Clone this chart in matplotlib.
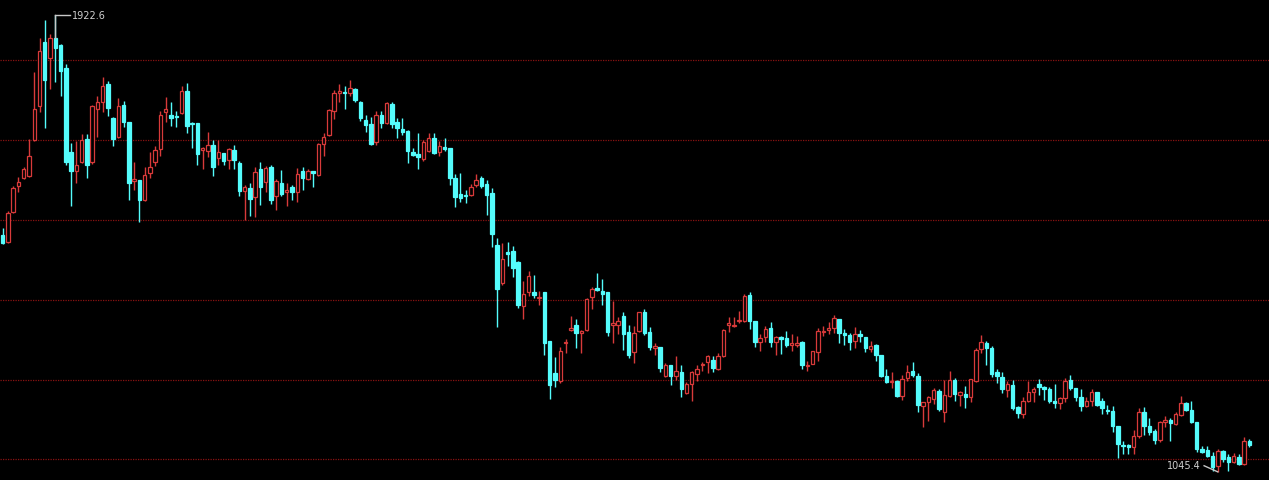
import numpy as np
import matplotlib
matplotlib.use("Agg")
import matplotlib.pyplot as plt

# daily OHLC, oldest first
open_ = [1500.2, 1486.7, 1544.3, 1594.3, 1609.6, 1613.5, 1682.6, 1747.9, 1870.7, 1840.0,
         1878.4, 1865.0, 1820.8, 1659.5, 1623.1, 1640.3, 1684.5, 1640.3, 1742.1, 1755.5,
         1790.1, 1724.8, 1688.3, 1749.8, 1717.1, 1603.9, 1605.8, 1567.4, 1619.2, 1640.3,
         1665.3, 1736.3, 1730.6, 1728.7, 1734.4, 1776.7, 1715.2, 1715.2, 1663.4, 1661.5,
         1673.0, 1648.0, 1657.6, 1644.2, 1663.4, 1638.4, 1584.7, 1590.4, 1573.1, 1626.9,
         1602.0, 1630.7, 1575.1, 1600.0, 1582.7, 1592.3, 1582.7, 1623.1, 1607.7, 1623.1,
         1615.4, 1674.9, 1692.2, 1738.3, 1772.9, 1774.7, 1772.9, 1780.5, 1755.5, 1721.0,
         1713.3, 1678.7, 1730.6, 1715.2, 1751.7, 1717.1, 1703.7, 1699.9, 1659.5, 1655.7,
         1646.1, 1661.5, 1686.4, 1659.5, 1669.1, 1667.2, 1609.6, 1578.9, 1577.0, 1577.0,
         1596.2, 1609.6, 1598.1, 1580.8, 1481.0, 1408.0, 1467.5, 1469.5, 1448.3, 1363.9,
         1390.7, 1390.7, 1379.2, 1390.7, 1296.7, 1235.2, 1219.9, 1292.8, 1317.8, 1327.4,
         1312.0, 1317.8, 1381.1, 1398.4, 1392.7, 1390.7, 1327.4, 1327.4, 1344.7, 1313.9,
         1275.5, 1315.9, 1352.3, 1313.9, 1283.2, 1285.2, 1229.5, 1250.6, 1229.5, 1237.1,
         1196.8, 1214.1, 1233.3, 1250.6, 1256.3, 1260.2, 1242.9, 1267.9, 1327.4, 1325.5,
         1335.1, 1335.1, 1385.0, 1335.1, 1294.7, 1304.3, 1321.6, 1294.7, 1304.3, 1302.4,
         1289.0, 1289.0, 1294.7, 1248.7, 1252.5, 1275.5, 1313.9, 1317.8, 1321.6, 1338.9,
         1312.0, 1308.2, 1296.7, 1310.1, 1304.3, 1281.3, 1289.0, 1269.8, 1229.5, 1217.9,
         1219.9, 1191.1, 1225.6, 1239.1, 1229.5, 1171.9, 1179.5, 1185.3, 1200.7, 1160.3,
         1191.1, 1221.8, 1193.0, 1194.9, 1189.1, 1219.9, 1281.3, 1292.8, 1283.2, 1237.1,
         1227.5, 1202.6, 1212.2, 1169.9, 1156.5, 1181.5, 1198.7, 1214.1, 1208.3, 1204.5,
         1181.5, 1177.6, 1187.2, 1221.8, 1206.4, 1189.1, 1171.9, 1181.5, 1198.7, 1181.5,
         1164.2, 1162.3, 1133.5, 1097.0, 1097.0, 1093.1, 1114.3, 1160.3, 1133.5, 1123.9,
         1106.6, 1141.1, 1145.0, 1137.3, 1154.6, 1177.6, 1164.2, 1141.1, 1089.3, 1087.4,
         1075.9, 1056.7, 1085.5, 1073.9, 1064.3, 1073.9, 1060.5, 1104.7]
high = [1513.6, 1546.3, 1594.3, 1611.5, 1630.7, 1684.5, 1813.1, 1878.4, 1913.0, 1886.1,
        1922.6, 1866.5, 1828.5, 1676.8, 1680.7, 1694.1, 1694.1, 1750.0, 1767.1, 1803.5,
        1795.9, 1726.0, 1763.2, 1757.5, 1718.0, 1640.3, 1606.5, 1630.7, 1659.5, 1671.1,
        1738.3, 1765.1, 1755.5, 1738.3, 1786.3, 1792.0, 1717.1, 1716.0, 1669.1, 1697.9,
        1682.6, 1682.6, 1658.5, 1667.2, 1673.0, 1642.3, 1596.2, 1600.0, 1630.7, 1640.3,
        1632.7, 1634.6, 1607.7, 1625.0, 1600.0, 1596.2, 1628.8, 1630.7, 1626.9, 1624.0,
        1676.8, 1696.0, 1742.1, 1778.6, 1790.1, 1786.3, 1797.8, 1782.4, 1757.5, 1730.6,
        1726.7, 1738.3, 1738.3, 1755.5, 1755.5, 1724.8, 1724.8, 1701.8, 1667.2, 1696.0,
        1682.6, 1696.0, 1696.0, 1680.7, 1686.4, 1668.0, 1617.3, 1619.2, 1586.6, 1598.1,
        1617.3, 1613.5, 1605.8, 1590.4, 1494.4, 1484.8, 1486.7, 1479.1, 1450.3, 1411.9,
        1431.1, 1423.4, 1392.7, 1391.5, 1297.5, 1266.0, 1285.2, 1300.5, 1344.7, 1338.9,
        1317.8, 1379.2, 1400.3, 1427.2, 1415.7, 1391.5, 1373.5, 1342.7, 1352.3, 1327.4,
        1325.5, 1353.0, 1358.1, 1323.5, 1292.8, 1286.0, 1254.4, 1251.5, 1267.9, 1250.6,
        1217.9, 1239.1, 1250.6, 1256.3, 1269.8, 1267.9, 1273.6, 1319.7, 1342.7, 1342.7,
        1354.2, 1386.9, 1390.7, 1336.0, 1310.1, 1325.5, 1333.1, 1306.3, 1306.3, 1315.9,
        1310.1, 1306.3, 1296.7, 1258.3, 1278.0, 1321.6, 1325.5, 1333.1, 1346.6, 1339.5,
        1319.7, 1312.0, 1323.5, 1317.8, 1305.0, 1296.7, 1290.0, 1270.5, 1242.9, 1237.1,
        1221.0, 1231.4, 1250.6, 1256.3, 1235.2, 1180.0, 1191.1, 1206.4, 1204.5, 1221.8,
        1239.1, 1225.6, 1200.7, 1210.3, 1224.5, 1283.2, 1308.2, 1296.7, 1287.1, 1242.9,
        1237.1, 1219.9, 1221.8, 1171.0, 1189.1, 1219.9, 1208.3, 1223.7, 1210.3, 1208.3,
        1214.1, 1189.1, 1225.6, 1231.4, 1207.0, 1204.5, 1189.1, 1204.5, 1199.5, 1187.2,
        1173.8, 1171.9, 1134.3, 1104.7, 1098.9, 1125.8, 1168.0, 1169.9, 1148.8, 1127.7,
        1143.1, 1152.7, 1148.8, 1160.3, 1191.1, 1179.5, 1181.5, 1142.0, 1095.1, 1095.1,
        1083.5, 1089.3, 1086.5, 1079.7, 1081.6, 1079.7, 1112.3, 1108.5]
low = [1482.9, 1484.8, 1542.4, 1582.7, 1607.7, 1612.0, 1681.0, 1736.3, 1705.6, 1780.5,
       1793.9, 1767.1, 1634.6, 1555.9, 1600.0, 1638.0, 1609.6, 1636.5, 1688.3, 1736.3,
       1728.7, 1671.1, 1687.0, 1707.5, 1567.4, 1586.6, 1525.1, 1566.0, 1609.6, 1632.7,
       1651.9, 1717.1, 1709.5, 1707.5, 1733.0, 1696.0, 1667.2, 1634.6, 1626.9, 1649.9,
       1613.5, 1634.6, 1634.6, 1626.9, 1626.9, 1575.1, 1529.0, 1536.7, 1534.7, 1557.8,
       1582.7, 1559.7, 1548.2, 1575.1, 1555.9, 1567.4, 1563.5, 1586.6, 1606.0, 1592.3,
       1613.5, 1651.9, 1690.0, 1722.9, 1755.5, 1742.1, 1767.1, 1755.5, 1719.1, 1697.9,
       1673.0, 1673.0, 1705.6, 1714.0, 1705.6, 1686.4, 1692.2, 1638.4, 1651.9, 1626.9,
       1642.3, 1660.0, 1656.0, 1651.9, 1661.5, 1596.2, 1554.0, 1563.5, 1561.6, 1575.1,
       1592.3, 1590.4, 1538.6, 1477.1, 1323.5, 1404.2, 1440.7, 1419.5, 1360.0, 1338.9,
       1383.1, 1379.2, 1365.8, 1269.8, 1185.3, 1208.3, 1216.0, 1273.6, 1316.0, 1283.2,
       1273.6, 1316.0, 1358.1, 1392.7, 1365.8, 1306.3, 1292.8, 1310.1, 1279.4, 1264.0,
       1254.4, 1313.9, 1308.2, 1279.4, 1269.8, 1237.1, 1228.0, 1212.2, 1221.8, 1189.1,
       1195.0, 1181.5, 1219.9, 1239.1, 1235.2, 1237.1, 1241.0, 1266.0, 1313.9, 1323.5,
       1331.2, 1333.1, 1319.7, 1285.2, 1277.5, 1294.7, 1285.2, 1269.8, 1271.7, 1285.2,
       1277.5, 1285.2, 1242.9, 1239.1, 1252.0, 1258.3, 1306.3, 1310.1, 1312.0, 1292.8,
       1289.0, 1279.4, 1283.2, 1294.7, 1275.5, 1275.5, 1258.3, 1227.5, 1216.0, 1206.4,
       1189.1, 1183.4, 1219.9, 1227.5, 1160.3, 1131.5, 1143.1, 1175.7, 1162.3, 1141.1,
       1189.1, 1181.5, 1171.9, 1168.0, 1179.5, 1218.0, 1273.6, 1250.6, 1227.5, 1216.0,
       1196.8, 1189.1, 1164.2, 1148.8, 1148.8, 1179.5, 1179.5, 1193.0, 1183.4, 1177.6,
       1168.0, 1166.1, 1179.5, 1202.6, 1181.5, 1162.3, 1170.0, 1171.9, 1171.9, 1156.5,
       1156.5, 1121.9, 1072.0, 1079.7, 1079.7, 1079.7, 1110.4, 1116.2, 1116.2, 1098.9,
       1102.7, 1131.5, 1104.7, 1136.0, 1152.7, 1162.3, 1139.2, 1083.5, 1081.6, 1073.9,
       1047.1, 1045.4, 1064.3, 1047.5, 1062.4, 1059.5, 1059.0, 1093.1]
close = [1484.8, 1542.4, 1590.4, 1602.0, 1626.9, 1651.9, 1742.1, 1853.5, 1797.8, 1878.4,
         1859.2, 1815.1, 1640.3, 1623.1, 1634.6, 1682.6, 1634.6, 1747.9, 1755.5, 1786.3,
         1744.0, 1684.5, 1747.9, 1717.1, 1600.0, 1607.7, 1567.4, 1615.4, 1630.7, 1663.4,
         1730.6, 1742.1, 1724.8, 1726.0, 1776.7, 1709.5, 1713.5, 1655.7, 1667.2, 1673.0,
         1630.7, 1659.5, 1642.3, 1665.3, 1644.2, 1584.7, 1592.3, 1569.3, 1621.1, 1592.3,
         1628.8, 1567.4, 1603.9, 1578.9, 1586.6, 1582.7, 1617.3, 1609.6, 1623.1, 1619.2,
         1674.9, 1688.3, 1740.2, 1772.9, 1776.7, 1772.9, 1782.4, 1759.4, 1724.8, 1711.4,
         1674.9, 1730.6, 1715.2, 1753.6, 1713.3, 1705.6, 1697.9, 1661.5, 1653.8, 1649.9,
         1678.7, 1686.4, 1657.6, 1671.1, 1665.3, 1609.6, 1573.1, 1571.2, 1575.1, 1592.3,
         1605.8, 1594.3, 1577.0, 1502.1, 1396.5, 1454.1, 1463.7, 1436.8, 1365.8, 1386.9,
         1421.5, 1385.0, 1381.1, 1292.8, 1212.2, 1221.8, 1277.5, 1294.7, 1321.6, 1312.0,
         1315.9, 1377.3, 1396.5, 1394.6, 1386.9, 1313.9, 1331.2, 1335.1, 1310.1, 1269.8,
         1312.0, 1352.3, 1312.0, 1285.2, 1287.1, 1244.8, 1250.6, 1229.5, 1239.1, 1204.5,
         1214.1, 1237.1, 1242.9, 1252.5, 1267.9, 1244.8, 1267.9, 1317.8, 1331.2, 1327.4,
         1337.0, 1383.1, 1335.1, 1294.7, 1302.4, 1319.7, 1294.7, 1304.3, 1300.5, 1289.0,
         1292.8, 1292.8, 1250.6, 1250.6, 1277.5, 1315.9, 1315.9, 1321.6, 1340.8, 1312.0,
         1308.2, 1294.7, 1310.1, 1306.3, 1283.2, 1287.1, 1269.8, 1229.5, 1217.9, 1219.9,
         1191.1, 1223.7, 1237.1, 1231.4, 1173.8, 1179.5, 1189.1, 1202.6, 1166.1, 1193.0,
         1221.8, 1194.9, 1198.7, 1189.1, 1223.7, 1279.4, 1294.7, 1283.2, 1233.3, 1229.5,
         1204.5, 1214.1, 1168.0, 1158.4, 1181.5, 1198.7, 1204.5, 1208.3, 1204.5, 1181.5,
         1177.6, 1187.2, 1219.9, 1206.4, 1189.1, 1171.9, 1181.5, 1198.7, 1173.8, 1168.0,
         1162.3, 1133.5, 1098.9, 1095.1, 1093.1, 1114.3, 1160.3, 1133.5, 1121.9, 1106.6,
         1141.1, 1145.0, 1139.2, 1156.5, 1177.6, 1164.2, 1141.1, 1089.3, 1083.5, 1075.9,
         1054.7, 1085.5, 1070.1, 1064.3, 1075.9, 1060.5, 1104.7, 1097.0]

# horizontal reference levels
grid_levels = [1836.2, 1682.8, 1529.4, 1376.0, 1222.6, 1069.2]

o = np.array(open_)
h = np.array(high)
l = np.array(low)
c = np.array(close)
x = np.arange(len(o))

up_col = '#d83a3a'
dn_col = '#54fcfc'
up = c >= o
cols = np.where(up, up_col, dn_col)

fig = plt.figure(figsize=(12.69, 4.81), dpi=100, facecolor='black')
ax = fig.add_axes([0, 0, 1, 1])
ax.set_facecolor('black')

for g in grid_levels:
    ax.axhline(g, color='#8a1212', linestyle=(0, (1, 1)), linewidth=0.9, zorder=0)

ax.vlines(x, l, h, colors=cols, linewidth=1, zorder=1)
ax.bar(x, np.abs(c - o), bottom=np.minimum(o, c), width=0.66,
       color=np.where(up, 'black', dn_col), edgecolor=cols, linewidth=0.9, zorder=2)

# highest / lowest labels
imax = int(np.argmax(h))
ax.plot([imax, imax], [max(o[imax], c[imax]), h[imax]], color='#c8c8c8', linewidth=1, zorder=3)
ax.plot([imax, imax + 2.8], [h[imax], h[imax]], color='#c8c8c8', linewidth=1, zorder=3)
ax.text(imax + 3.1, h[imax], '%.1f' % h[imax], color='#d0d0d0', fontsize=7, va='center', ha='left')

imin = int(np.argmin(l))
ax.plot([imin - 2.6, imin], [l[imin] + 11.8, l[imin]], color='#c8c8c8', linewidth=1, zorder=3)
ax.text(imin - 3.2, l[imin] + 13.2, '%.1f' % l[imin], color='#d0d0d0', fontsize=7, va='center', ha='right')

ax.set_xlim(-0.51, 240.74)
ax.set_ylim(1029.8, 1953.3)
ax.axis('off')

fig.savefig('out.png', dpi=100, facecolor='black')
